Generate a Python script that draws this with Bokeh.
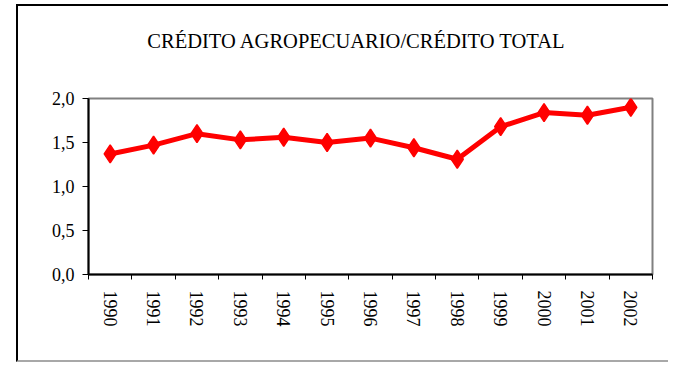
from bokeh.plotting import figure
from bokeh.models import FixedTicker, CustomJSTickFormatter, Range1d, ColumnDataSource, Spacer
from bokeh.layouts import row, column
from bokeh.core.properties import value
from bokeh.embed import file_html
from bokeh.resources import INLINE

years = ["1990", "1991", "1992", "1993", "1994", "1995", "1996",
         "1997", "1998", "1999", "2000", "2001", "2002"]
ratio = [1.37, 1.47, 1.60, 1.53, 1.56, 1.50, 1.55, 1.44, 1.31, 1.68, 1.84, 1.81, 1.90]
y_ticks = [0.0, 0.5, 1.0, 1.5, 2.0]
title_text = "CRÉDITO AGROPECUARIO/CRÉDITO TOTAL"

xpos = [i + 0.5 for i in range(len(years))]
src = ColumnDataSource(dict(x=xpos, y=ratio, year=years))

font = "Liberation Serif"
W = 652
TH = 80

# ---- title strip (pixel coordinates, y downwards) ----
t = figure(width=W, height=TH, output_backend="svg", toolbar_location=None,
           x_range=Range1d(0, W), y_range=Range1d(TH, 0),
           x_axis_type=None, y_axis_type=None, min_border=0,
           min_border_left=0, min_border_right=0, min_border_top=0, min_border_bottom=0)
t.styles = {"border-left": "2px solid black", "border-top": "2px solid black"}
t.grid.visible = False
t.outline_line_color = None
t.background_fill_color = "white"
t.border_fill_color = "white"
t.text(x=[310], y=[34], text=[title_text], text_align="center",
       text_baseline="alphabetic", text_font=value(font),
       text_font_size="20.5px", text_color="black")

# ---- chart ----
p = figure(width=W, height=278, output_backend="svg", toolbar_location=None,
           x_range=Range1d(0, len(years)), y_range=Range1d(0, 2.0),
           min_border_left=70, min_border_right=18, min_border_top=14, min_border_bottom=88)
p.styles = {"border-left": "2px solid black", "border-bottom": "2px solid #a8a8a8"}
p.background_fill_color = "white"
p.border_fill_color = "white"
p.grid.visible = False
p.outline_line_color = "#808080"
p.outline_line_width = 2

# x axis: labels at category centres, ticks at boundaries
p.xaxis.ticker = FixedTicker(ticks=xpos, minor_ticks=list(range(len(years) + 1)))
p.xaxis.formatter = CustomJSTickFormatter(args=dict(labels=years),
                                          code="return labels[Math.floor(tick)];")
p.xaxis.major_tick_line_color = None
p.xaxis.minor_tick_line_color = "black"
p.xaxis.minor_tick_in = 0
p.xaxis.minor_tick_out = 5
p.xaxis.major_label_orientation = "vertical"
p.xaxis.major_label_standoff = 10

p.yaxis.ticker = FixedTicker(ticks=y_ticks, minor_ticks=[])
p.yaxis.formatter = CustomJSTickFormatter(code="return tick.toFixed(1).replace('.', ',');")
p.yaxis.major_tick_in = 0
p.yaxis.major_tick_out = 6
p.yaxis.minor_tick_line_color = None
p.yaxis.major_label_standoff = 8

for ax in (p.xaxis, p.yaxis):
    ax.axis_line_color = "black"
    ax.axis_line_width = 2
    ax.major_label_text_font = font
    ax.major_label_text_font_size = "18px"
    ax.major_label_text_color = "black"

p.line("x", "y", source=src, line_color="#ff0000", line_width=5)
p.scatter("x", "y", source=src, marker="diamond", size=18,
          fill_color="#ff0000", line_color="#ff0000", line_width=1.5)

layout = column(Spacer(width=10, height=4),
                row(Spacer(width=16, height=10), column(t, p)))

open("out.html", "w").write(file_html(layout, INLINE))
